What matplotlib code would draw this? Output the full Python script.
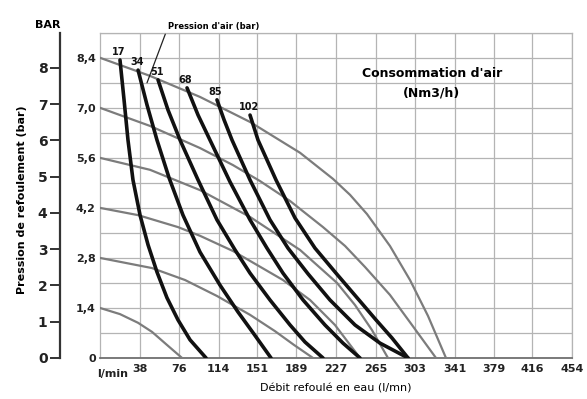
import numpy as np
import matplotlib
matplotlib.use("Agg")
import matplotlib.pyplot as plt

plt.rcParams['font.family'] = ['Liberation Sans Narrow', 'DejaVu Sans']
plt.rcParams['font.weight'] = 'bold'

# axis ticks
x_ticks = [38, 76, 114, 151, 189, 227, 265, 303, 341, 379, 416, 454]
x_labels = ['38', '76', '114', '151', '189', '227', '265', '303', '341', '379', '416', '454']
psi_step = 0.6895  # one grid row (10 psi) in bar
air_labels = ['0', '1,4', '2,8', '4,2', '5,6', '7,0', '8,4']
bar_ticks = [0, 1, 2, 3, 4, 5, 6, 7, 8]

# air pressure curves (grey), x in l/min, y in bar
g1_x = [0, 19.2, 36.6, 50.0, 64.4, 78.9]
g1_y = [1.38, 1.21, 0.97, 0.72, 0.36, 0]
g2_x = [0, 50.0, 81.8, 112.5, 144.3, 168.3, 186.6, 204.9]
g2_y = [2.76, 2.48, 2.15, 1.71, 1.19, 0.74, 0.36, 0]
g3_x = [0, 36.6, 75.0, 96.2, 127.9, 176.0, 202.0, 226.0, 250.1]
g3_y = [4.14, 3.94, 3.61, 3.37, 2.95, 2.15, 1.60, 0.91, 0]
g4_x = [0, 48.1, 96.2, 144.3, 192.4, 228.0, 245.3, 261.6, 277.0]
g4_y = [5.52, 5.19, 4.63, 3.89, 2.98, 2.07, 1.46, 0.77, 0]
g5_x = [0, 48.1, 96.2, 127.9, 153.9, 182.8, 214.5, 235.7, 254.9, 278.9, 300.1, 323.2]
g5_y = [6.90, 6.40, 5.79, 5.32, 4.88, 4.33, 3.61, 3.09, 2.51, 1.74, 0.91, 0]
g6_x = [0, 48.1, 96.2, 144.3, 192.4, 224.1, 240.5, 256.8, 278.9, 298.2, 315.5, 332.8]
g6_y = [8.28, 7.78, 7.20, 6.51, 5.66, 4.94, 4.50, 3.97, 3.09, 2.15, 1.16, 0]

# air consumption curves (black), Nm3/h
c17_x = [19.2, 23.1, 26.9, 31.7, 38.5, 46.2, 54.8, 64.4, 75.0, 86.6, 102.0]
c17_y = [8.22, 7.12, 6.01, 4.91, 3.94, 3.12, 2.37, 1.66, 1.05, 0.50, 0]
c34_x = [36.6, 45.2, 54.8, 66.4, 79.8, 96.2, 115.4, 132.7, 148.1, 164.5]
c34_y = [7.94, 6.98, 6.01, 4.97, 3.94, 2.92, 2.01, 1.27, 0.66, 0]
c51_x = [55.8, 65.4, 77.0, 94.3, 112.5, 129.9, 144.3, 163.5, 182.8, 197.2, 214.5]
c51_y = [7.67, 6.84, 6.01, 4.91, 3.81, 2.98, 2.34, 1.60, 0.91, 0.44, 0]
c68_x = [83.7, 94.3, 105.8, 125.0, 144.3, 160.6, 176.0, 195.3, 216.4, 233.7, 250.1]
c68_y = [7.45, 6.70, 6.01, 4.86, 3.81, 3.03, 2.34, 1.60, 0.91, 0.41, 0]
c85_x = [112.5, 119.3, 127.0, 144.3, 163.5, 180.8, 200.1, 221.2, 245.3, 269.3, 296.3]
c85_y = [7.12, 6.57, 6.01, 4.91, 3.81, 3.03, 2.32, 1.60, 0.91, 0.41, 0]
c102_x = [144.3, 152.0, 169.3, 187.6, 206.8, 227.0, 248.2, 265.5, 280.9, 296.3]
c102_y = [6.70, 6.01, 4.91, 3.86, 3.03, 2.34, 1.63, 1.05, 0.55, 0]

grey_curves = [(g1_x, g1_y), (g2_x, g2_y), (g3_x, g3_y),
               (g4_x, g4_y), (g5_x, g5_y), (g6_x, g6_y)]
black_curves = [('17', c17_x, c17_y), ('34', c34_x, c34_y), ('51', c51_x, c51_y),
                ('68', c68_x, c68_y), ('85', c85_x, c85_y), ('102', c102_x, c102_y)]

fig = plt.figure(figsize=(5.87, 3.99), dpi=100)
ax = fig.add_axes([0.1704, 0.1028, 0.8040, 0.8145])
ax.set_xlim(0, 454)
ax.set_ylim(0, 13 * psi_step)

grid_col = '#b4b4b4'
ax.set_xticks(x_ticks)
ax.set_xticklabels(x_labels, fontsize=8)
ax.set_yticks([i * 2 * psi_step for i in range(7)])
ax.set_yticklabels(air_labels, fontsize=8)
ax.set_yticks([(2 * i + 1) * psi_step for i in range(7)], minor=True)
ax.tick_params(axis='both', which='both', length=0, pad=3, colors='#222222')
ax.tick_params(axis='x', pad=4)
ax.grid(True, which='both', color=grid_col, lw=0.9)
for s in ['top', 'right', 'left']:
    ax.spines[s].set_color(grid_col)
    ax.spines[s].set_linewidth(0.9)
ax.spines['bottom'].set_color('#707070')
ax.spines['bottom'].set_linewidth(1.3)
ax.set_axisbelow(True)

for gx, gy in grey_curves:
    ax.plot(gx, gy, color='#7c7c7c', lw=1.6, solid_capstyle='round',
            solid_joinstyle='round', zorder=3)
for lab, cx, cy in black_curves:
    ax.plot(cx, cy, color='#111111', lw=2.6, solid_capstyle='round',
            solid_joinstyle='round', zorder=4)
    ax.annotate(lab, (cx[0], cy[0]), xytext=(-1, 2), textcoords='offset points',
                ha='center', va='bottom', fontsize=7, color='#111111')

# bar scale on the far left
bax = ax.secondary_yaxis(-0.0847, functions=(lambda v: v, lambda v: v))
bax.set_yticks(bar_ticks)
bax.set_yticklabels([str(b) for b in bar_ticks], fontsize=10)
bax.tick_params(length=7, width=1.3, pad=2, colors='#222222')
bax.spines['left'].set_linewidth(1.6)
bax.spines['left'].set_color('#333333')
ax.text(-0.11, 1.01, 'BAR', transform=ax.transAxes, ha='center', va='bottom',
        fontsize=8)

ax.text(-3, -0.035, 'l/min', transform=ax.get_xaxis_transform(), ha='left', va='top',
        fontsize=8, color='#222222')
ax.set_xlabel("Débit refoulé en eau (l/mn)", fontsize=8, labelpad=7)
fig.text(0.038, 0.5, 'Pression de refoulement (bar)', rotation=90, ha='center',
         va='center', fontsize=8)

ax.text(0.703, 0.895, "Consommation d'air\n(Nm3/h)", transform=ax.transAxes,
        ha='center', va='top', fontsize=9, linespacing=1.6)

ax.annotate("Pression d'air (bar)", xy=(45.2, 7.59), xytext=(65.4, 9.13),
            ha='left', va='center', fontsize=6,
            arrowprops=dict(arrowstyle='-', color='#222222', lw=0.9,
                            shrinkA=0, shrinkB=0, relpos=(0, 0.5)),
            annotation_clip=False)

fig.savefig('out.png', dpi=100, facecolor='white')
